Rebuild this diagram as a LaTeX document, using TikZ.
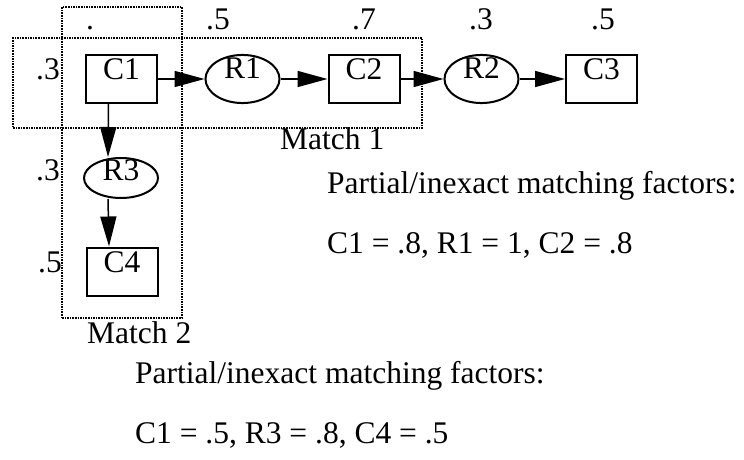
\documentclass[tikz,border=0pt]{standalone}
\usepackage{fontspec}
\setmainfont{Liberation Serif}
\usetikzlibrary{arrows.meta, shapes.geometric}
\tikzstyle{concept} = [draw, line width=2pt, rectangle, inner sep=0pt, minimum width=71pt, minimum height=48pt, text height=22pt, text depth=20pt]
\tikzstyle{relation} = [draw, line width=2pt, ellipse, inner sep=0pt, minimum width=74pt, minimum height=47pt, text height=16pt, text depth=18pt]
\tikzstyle{arrow} = [line width=1.5pt, -{Triangle[length=30pt, width=16pt]}]
\tikzstyle{matchbox} = [draw, densely dotted, line width=1.6pt, inner sep=0pt]
\tikzstyle{weight} = [anchor=base, inner sep=0pt]

\begin{document}
\begin{tikzpicture}[x=1pt, y=-1pt, font=\fontsize{31.5}{38}\selectfont]
    \useasboundingbox (0,0) rectangle (744,460);
    % match regions
    \node[matchbox, minimum width=409pt, minimum height=90pt] (m1) at (217.5,83) {};
    \node[matchbox, minimum width=120pt, minimum height=311pt] (m2) at (122,162.5) {};
    \node[anchor=base west, inner sep=0pt] (m1lbl) at (280,149) {Match 1};
    \node[anchor=base west, inner sep=0pt] (m2lbl) at (87,343) {Match 2};
    % graph
    \node[concept] (c1) at (121.5,79) {C1};
    \node[relation] (r1) at (242.5,79) {R1};
    \node[concept] (c2) at (364,79) {C2};
    \node[relation] (r2) at (481.5,79) {R2};
    \node[concept] (c3) at (601.5,79) {C3};
    \node[relation, minimum height=40pt, text height=16pt, text depth=12pt] (r3) at (121,178) {R3};
    \node[concept] (c4) at (122,271.5) {C4};
    \draw[arrow] (c1) -- (r1);
    \draw[arrow] (r1) -- (c2);
    \draw[arrow] (c2) -- (r2);
    \draw[arrow] (r2) -- (c3);
    \draw[arrow] ([xshift=-13pt]c1.south) -- ([xshift=-13pt]r3.north);
    \draw[arrow] ([xshift=-13pt]r3.south) -- ([xshift=-13pt]c4.north);
    % weights
    \foreach \x/\w [count=\i] in {90/., 218/.5, 364/.7, 481/.3, 603/.5}
      \node[weight] (top\i) at (\x,30) {\w};
    \node[weight, anchor=base east] (left1) at (60,80) {.3};
    \node[weight, anchor=base east] (left2) at (60,180) {.3};
    \node[weight, anchor=base east] (left3) at (62,272) {.5};
    % matching factors
    \node[anchor=base west, inner sep=0pt] (f1a) at (327,193) {Partial/inexact matching factors:};
    \node[anchor=base west, inner sep=0pt] (f1b) at (327,253) {C1 = .8, R1 = 1, C2 = .8};
    \node[anchor=base west, inner sep=0pt] (f2a) at (135,383) {Partial/inexact matching factors:};
    \node[anchor=base west, inner sep=0pt] (f2b) at (135,443) {C1 = .5, R3 = .8, C4 = .5};
\end{tikzpicture}
\end{document}
